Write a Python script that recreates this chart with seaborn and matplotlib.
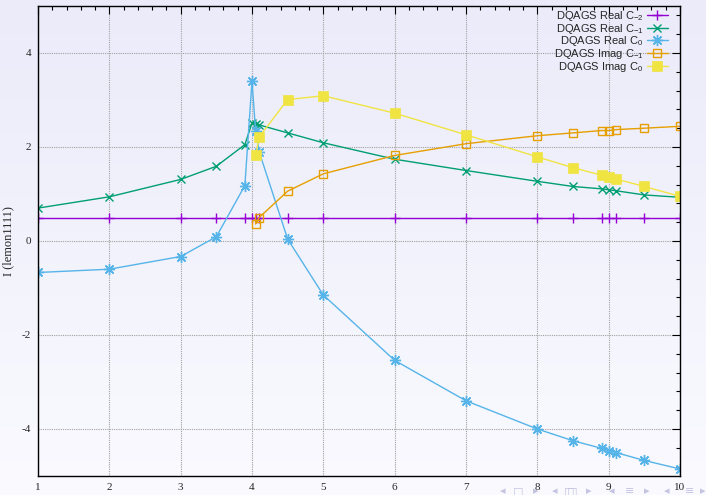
import numpy as np
import pandas as pd
import matplotlib
matplotlib.use("Agg")
import matplotlib.pyplot as plt
from matplotlib.ticker import MultipleLocator
import seaborn as sns

# Sample energies (x) and integral components from the DQAGS runs
x_full = [1, 2, 3, 3.5, 3.9, 4, 4.05, 4.1, 4.5, 5, 6, 7, 8, 8.5, 8.9, 9, 9.1, 9.5, 10]
x_imag = [4.05, 4.1, 4.5, 5, 6, 7, 8, 8.5, 8.9, 9, 9.1, 9.5, 10]

real_cm2 = [0.5] * len(x_full)
real_cm1 = [0.70, 0.94, 1.31, 1.59, 2.05, 2.51, 2.49, 2.47, 2.30, 2.09, 1.74, 1.50,
            1.27, 1.16, 1.11, 1.09, 1.07, 0.98, 0.93]
real_c0 = [-0.67, -0.60, -0.33, 0.09, 1.18, 3.40, 2.35, 1.90, 0.04, -1.15, -2.54,
           -3.40, -4.00, -4.25, -4.41, -4.46, -4.50, -4.67, -4.85]
imag_cm1 = [0.36, 0.50, 1.06, 1.43, 1.82, 2.07, 2.24, 2.30, 2.35, 2.35, 2.37, 2.40, 2.44]
imag_c0 = [1.82, 2.21, 3.01, 3.09, 2.72, 2.26, 1.79, 1.56, 1.40, 1.36, 1.32, 1.16, 0.95]

labels = ["DQAGS Real C$_{-2}$", "DQAGS Real C$_{-1}$", "DQAGS Real C$_{0}$",
          "DQAGS Imag C$_{-1}$", "DQAGS Imag C$_{0}$"]

series = [
    (x_full, real_cm2, labels[0], "#9400D3", "+", dict(markersize=7, markeredgewidth=1.0)),
    (x_full, real_cm1, labels[1], "#009E73", "x", dict(markersize=6, markeredgewidth=1.0)),
    (x_full, real_c0, labels[2], "#56B4E9", (8, 2, 0), dict(markersize=8, markeredgewidth=1.0)),
    (x_imag, imag_cm1, labels[3], "#E69F00", "s", dict(markersize=6, markeredgewidth=1.0,
                                                      markerfacecolor="none")),
    (x_imag, imag_c0, labels[4], "#F0E442", "s", dict(markersize=6.5, markeredgewidth=0.5)),
]

sns.set_theme(style="white")
plt.rcParams["mathtext.default"] = "regular"
plt.rcParams["axes.unicode_minus"] = False

W, H = 706, 495
fig = plt.figure(figsize=(W / 100, H / 100), dpi=100)

# slide background: soft vertical lavender gradient
bg = fig.add_axes([0, 0, 1, 1], zorder=-10)
grad = np.linspace(0, 1, 256)[:, None]
top_c = np.array([235, 235, 250]) / 255
bot_c = np.array([250, 250, 255]) / 255
img = top_c[None, None, :] * (1 - grad[:, :, None]) + bot_c[None, None, :] * grad[:, :, None]
bg.imshow(img, aspect="auto", extent=[0, 1, 0, 1])
bg.set_axis_off()

ax = fig.add_axes([38 / W, (H - 476) / H, (680 - 38) / W, (476 - 6) / H])
ax.set_facecolor("none")

for xs, ys, lab, col, mk, kw in series:
    df = pd.DataFrame({"x": xs, "y": ys})
    sns.lineplot(data=df, x="x", y="y", ax=ax, color=col, marker=mk, label=lab,
                 linewidth=1.0, estimator=None, sort=False, markeredgecolor=col, **kw)

ax.set_xlim(1, 10)
ax.set_ylim(-5, 5)
ax.xaxis.set_major_locator(MultipleLocator(1))
ax.xaxis.set_minor_locator(MultipleLocator(0.2))
ax.yaxis.set_major_locator(MultipleLocator(2))
ax.yaxis.set_minor_locator(MultipleLocator(0.4))
ax.tick_params(which="both", direction="in", top=True, right=True, color="black")
ax.tick_params(which="major", length=6, width=0.8, labelsize=8, pad=5)
ax.tick_params(which="minor", length=3, width=0.8)
for lbl in ax.get_xticklabels() + ax.get_yticklabels():
    lbl.set_family("Liberation Serif")
ax.grid(True, which="major", linestyle=(0, (1, 1)), color="#a0a0a0", linewidth=0.8)
for sp in ax.spines.values():
    sp.set_color("black")
    sp.set_linewidth(1.0)

ax.set_xlabel("")
ax.set_ylabel("I (lemon1111)", family="Liberation Serif", fontsize=9)
ax.yaxis.set_label_coords((14 - 38) / (680 - 38), 0.5)

leg = ax.legend(loc="upper right", bbox_to_anchor=((668 - 38) / 642, (476 - 9) / 470),
                markerfirst=False, frameon=False,
                prop={"family": "Liberation Sans", "size": 8},
                handlelength=1.9, handletextpad=0.3, labelspacing=-0.12,
                borderaxespad=0.0, borderpad=0.0)

# beamer navigation glyphs
nav = [(503, "◂"), (518, "□"), (536, "▸"), (555, "◂"), (569, "□"), (572, "□"),
       (589, "▸"), (612, "◂"), (630, "≡"), (647, "▸"), (667, "◂"), (690, "≡"), (703, "▸")]
for px, ch in nav:
    fig.text(px / W, 1 - 491 / H, ch, ha="center", va="center", fontsize=8,
             color="#c4c4e2", family="DejaVu Sans")

fig.savefig("out.png", dpi=100)
